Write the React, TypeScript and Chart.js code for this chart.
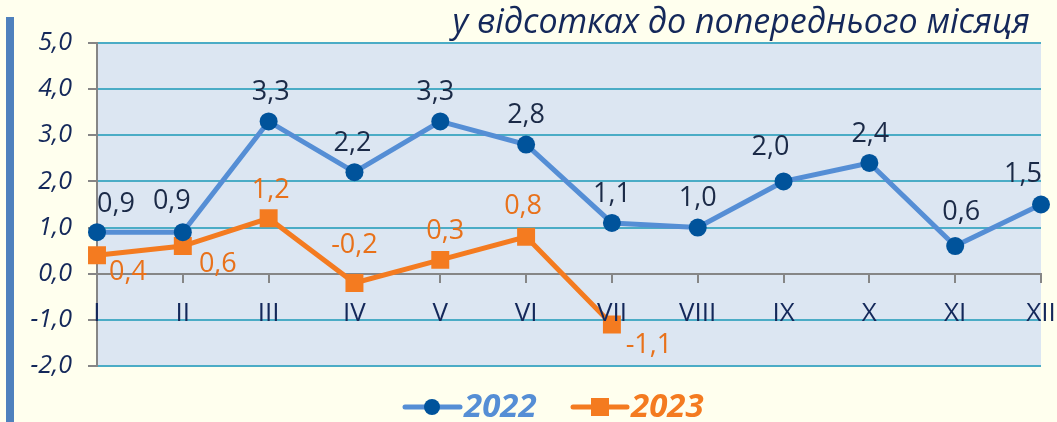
import React, { useEffect, useRef } from 'react';
import { Chart, registerables } from 'chart.js';

Chart.register(...registerables);

const months = ['I', 'II', 'III', 'IV', 'V', 'VI', 'VII', 'VIII', 'IX', 'X', 'XI', 'XII'];
const values2022 = [0.9, 0.9, 3.3, 2.2, 3.3, 2.8, 1.1, 1.0, 2.0, 2.4, 0.6, 1.5];
const values2023 = [0.4, 0.6, 1.2, -0.2, 0.3, 0.8, -1.1, null, null, null, null, null];
const seriesNames = ['2022', '2023'];
const yMin = -2;
const yMax = 5;
const yStep = 1;
const titleText = 'у відсотках до попереднього місяця';

// label offsets (styling only): [dx, dy] relative to each point
const labelOffsets2022 = [[19, -28], [-11, -31], [2, -29], [-2, -29], [-5, -29], [0, -29], [0, -29], [0, -29], [-13, -34], [1, -29], [6, -34], [-18, -30]];
const labelOffsets2023 = [[31, 17], [35, 18], [2, -28], [0, -38], [5, -29], [-3, -30], [37, 21]];

const BLUE_LINE = '#558ed5';
const BLUE_MARK = '#00539b';
const ORANGE = '#f47b20';
const ORANGE_TEXT = '#e8711a';
const NAVY = '#14285a';
const LABEL_DARK = '#1b2a47';
const GRID = '#4bacc6';
const AXIS = '#868686';
const PLOT_BG = '#dce6f2';
const PAGE_BG = '#ffffee';
const FONT = '"Open Sans", "Noto Sans", sans-serif';

const fmt = (v: number) => v.toFixed(1).replace('.', ',');

const decorPlugin = {
  id: 'decor',
  beforeDraw(chart: any) {
    const { ctx, chartArea } = chart;
    ctx.save();
    ctx.fillStyle = PLOT_BG;
    ctx.fillRect(chartArea.left, chartArea.top, chartArea.right - chartArea.left, chartArea.bottom - chartArea.top);
    ctx.fillStyle = '#4f81bd';
    ctx.fillRect(6, 17, 8, 405);
    ctx.restore();
  },
  afterDraw(chart: any) {
    const { ctx } = chart;
    ctx.save();
    // x category labels, below the zero line
    const xs = chart.scales.x;
    const ys = chart.scales.y;
    const y0 = ys.getPixelForValue(0);
    ctx.font = '26px ' + FONT;
    ctx.fillStyle = NAVY;
    ctx.textAlign = 'center';
    ctx.textBaseline = 'alphabetic';
    months.forEach((m, i) => {
      ctx.fillText(m, xs.getPixelForValue(i), y0 + 47);
    });

    // title
    ctx.font = 'italic 34px ' + FONT;
    ctx.fillStyle = NAVY;
    ctx.textAlign = 'right';
    ctx.textBaseline = 'alphabetic';
    ctx.fillText(titleText, 1030, 33);

    // legend
    const ly = 407;
    ctx.lineCap = 'round';
    ctx.lineWidth = 5;
    ctx.strokeStyle = BLUE_LINE;
    ctx.beginPath();
    ctx.moveTo(405, ly);
    ctx.lineTo(460, ly);
    ctx.stroke();
    ctx.fillStyle = BLUE_MARK;
    ctx.beginPath();
    ctx.arc(432, ly, 8, 0, Math.PI * 2);
    ctx.fill();
    ctx.font = 'italic bold 33px ' + FONT;
    ctx.textAlign = 'left';
    ctx.textBaseline = 'middle';
    ctx.fillStyle = BLUE_LINE;
    ctx.fillText(seriesNames[0], 464, ly + 1);

    ctx.strokeStyle = ORANGE;
    ctx.beginPath();
    ctx.moveTo(573, ly);
    ctx.lineTo(627, ly);
    ctx.stroke();
    ctx.fillStyle = ORANGE;
    ctx.fillRect(591, ly - 9, 18, 18);
    ctx.fillText(seriesNames[1], 631, ly + 1);
    ctx.restore();
  },
  afterDatasetsDraw(chart: any) {
    const { ctx } = chart;
    ctx.save();
    ctx.font = '27px ' + FONT;
    ctx.textAlign = 'center';
    ctx.textBaseline = 'middle';
    const sets = [
      { idx: 0, color: LABEL_DARK, offs: labelOffsets2022 },
      { idx: 1, color: ORANGE_TEXT, offs: labelOffsets2023 },
    ];
    sets.forEach(({ idx, color, offs }) => {
      const meta = chart.getDatasetMeta(idx);
      const data = chart.data.datasets[idx].data as (number | null)[];
      ctx.fillStyle = color;
      meta.data.forEach((el: any, i: number) => {
        const v = data[i];
        if (v === null || v === undefined) return;
        const o = offs[i] || [0, -29];
        ctx.fillText(fmt(v), el.x + o[0], el.y + o[1]);
      });
    });
    ctx.restore();
  },
};

export default function App() {
  const ref = useRef<HTMLCanvasElement | null>(null);
  useEffect(() => {
    if (!ref.current) return;
    const chart = new Chart(ref.current, {
      type: 'line',
      data: {
        labels: months,
        datasets: [
          {
            label: seriesNames[0],
            data: values2022,
            borderColor: BLUE_LINE,
            borderWidth: 5,
            pointStyle: 'circle',
            pointRadius: 9,
            pointBackgroundColor: BLUE_MARK,
            pointBorderColor: BLUE_MARK,
            pointBorderWidth: 0,
            tension: 0,
          },
          {
            label: seriesNames[1],
            data: values2023,
            borderColor: ORANGE,
            borderWidth: 5,
            pointStyle: 'rect',
            pointRadius: 12.7,
            pointBackgroundColor: ORANGE,
            pointBorderColor: ORANGE,
            pointBorderWidth: 0,
            tension: 0,
            spanGaps: false,
          },
        ],
      },
      options: {
        responsive: false,
        animation: false,
        devicePixelRatio: 1,
        layout: { padding: { left: 0, top: 43, right: 16, bottom: 56 } },
        plugins: {
          legend: { display: false },
          tooltip: { enabled: false },
          title: { display: false },
        },
        scales: {
          x: {
            type: 'category',
            offset: false,
            position: { y: 0 } as any,
            grid: {
              drawOnChartArea: false,
              drawTicks: true,
              tickLength: 8,
              color: AXIS,
              lineWidth: 2,
            },
            border: { color: AXIS, width: 2 },
            ticks: {
              display: false,
              autoSkip: false,
            },
          },
          y: {
            min: yMin,
            max: yMax,
            afterFit: (s: any) => { s.width = 97; },
            ticks: {
              stepSize: yStep,
              color: NAVY,
              font: { family: FONT, size: 25, style: 'italic' },
              padding: 16,
              callback: (v: any) => fmt(Number(v)),
            },
            grid: {
              color: GRID,
              lineWidth: 2,
              tickLength: 9,
              tickColor: AXIS,
            },
            border: { color: AXIS, width: 2 },
          },
        },
      },
      plugins: [decorPlugin],
    });
    return () => chart.destroy();
  }, []);
  return (
    <div style={{ position: 'absolute', left: 0, top: 0, width: 1057, height: 422, background: PAGE_BG, overflow: 'hidden' }}>
      <canvas ref={ref} width={1057} height={422} style={{ display: 'block' }} />
    </div>
  );
}
